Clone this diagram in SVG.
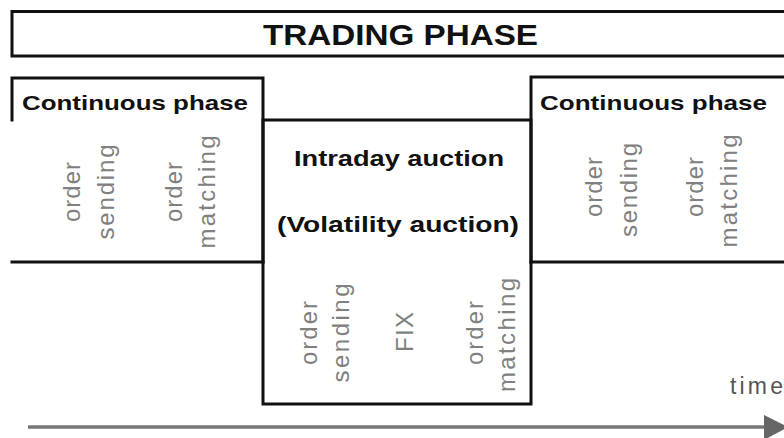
<svg xmlns="http://www.w3.org/2000/svg" width="784" height="438" viewBox="0 0 784 438">
<style>
.ln{fill:none;stroke:#111;stroke-width:3;stroke-linecap:square}
.title{font-family:"Liberation Sans",Arial,sans-serif;font-weight:bold;fill:#111}
.rot{font-family:"Liberation Sans",Arial,sans-serif;font-size:24px;fill:#808080;text-anchor:middle}
.time{font-family:"Liberation Sans",Arial,sans-serif;font-size:23px;fill:#555}
</style>
<rect width="784" height="438" fill="#fff"/>
<g id="trading-phase">
<rect class="ln" x="12" y="11.5" width="800" height="44.5"/>
<text class="title" x="263" y="45" font-size="30" textLength="275" lengthAdjust="spacingAndGlyphs">TRADING PHASE</text>
</g>
<g id="continuous-left">
<polyline class="ln" points="12,120 12,78 263,78 263,262"/>
<line class="ln" x1="12" y1="262" x2="263" y2="262"/>
<text class="title" x="22" y="110" font-size="21" textLength="226" lengthAdjust="spacingAndGlyphs">Continuous phase</text>
<text class="rot" transform="translate(80,192) rotate(-90)" textLength="60" lengthAdjust="spacing">order</text>
<text class="rot" transform="translate(114,192) rotate(-90)" textLength="95" lengthAdjust="spacing">sending</text>
<text class="rot" transform="translate(182,192) rotate(-90)" textLength="60" lengthAdjust="spacing">order</text>
<text class="rot" transform="translate(215,192) rotate(-90)" textLength="113" lengthAdjust="spacing">matching</text>
</g>
<g id="intraday-auction">
<rect class="ln" x="263" y="120" width="268" height="284"/>
<text class="title" x="294" y="166" font-size="22" textLength="210" lengthAdjust="spacingAndGlyphs">Intraday auction</text>
<text class="title" x="277" y="232" font-size="22" textLength="242" lengthAdjust="spacingAndGlyphs">(Volatility auction)</text>
<text class="rot" transform="translate(317,333) rotate(-90)" textLength="64" lengthAdjust="spacing">order</text>
<text class="rot" transform="translate(349,333) rotate(-90)" textLength="99" lengthAdjust="spacing">sending</text>
<text class="rot" transform="translate(413,332) rotate(-90)" textLength="40" lengthAdjust="spacing">FIX</text>
<text class="rot" transform="translate(483,333) rotate(-90)" textLength="64" lengthAdjust="spacing">order</text>
<text class="rot" transform="translate(515,335) rotate(-90)" textLength="114" lengthAdjust="spacing">matching</text>
</g>
<g id="continuous-right">
<polyline class="ln" points="531,262 531,77 800,77"/>
<line class="ln" x1="531" y1="262" x2="800" y2="262"/>
<text class="title" x="540" y="110" font-size="21" textLength="227" lengthAdjust="spacingAndGlyphs">Continuous phase</text>
<text class="rot" transform="translate(602,187) rotate(-90)" textLength="60" lengthAdjust="spacing">order</text>
<text class="rot" transform="translate(637,190) rotate(-90)" textLength="94" lengthAdjust="spacing">sending</text>
<text class="rot" transform="translate(703,187) rotate(-90)" textLength="60" lengthAdjust="spacing">order</text>
<text class="rot" transform="translate(737,191) rotate(-90)" textLength="113" lengthAdjust="spacing">matching</text>
</g>
<g id="connectors">
<line x1="28" y1="427" x2="768" y2="427" stroke="#777" stroke-width="3.5"/>
<polygon points="764,415 788,427 764,440" fill="#666"/>
<text class="time" x="730" y="394" textLength="53" lengthAdjust="spacing">time</text>
</g>
</svg>
